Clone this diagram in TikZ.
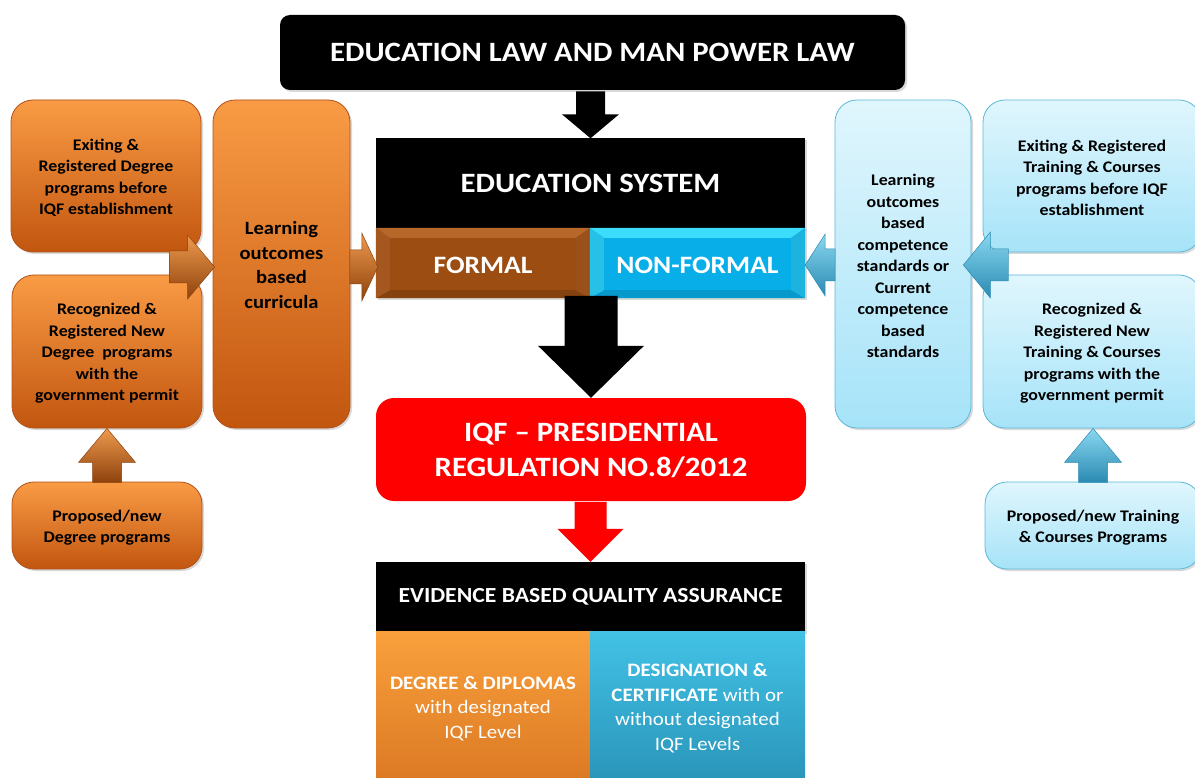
\documentclass[tikz,border=0pt]{standalone}
\usepackage{fontspec}
\setmainfont{Carlito}[FakeStretch=1.1]
\usetikzlibrary{shadows,calc}
\definecolor{ortop}{HTML}{F99B45}
\definecolor{orbot}{HTML}{C2560F}
\definecolor{ordraw}{HTML}{B0521A}
\definecolor{bltop}{HTML}{E0F6FD}
\definecolor{blbot}{HTML}{A6E3F8}
\definecolor{bldraw}{HTML}{5DB7D6}
\definecolor{formalc}{HTML}{9C4E12}
\definecolor{formall}{HTML}{B8672A}
\definecolor{formald}{HTML}{86420E}
\definecolor{nfc}{HTML}{08AEE8}
\definecolor{nfl}{HTML}{3CDDFB}
\definecolor{nfd}{HTML}{0798CC}
\definecolor{degtop}{HTML}{F9A03C}
\definecolor{degbot}{HTML}{DC7A24}
\definecolor{destop}{HTML}{42C2E6}
\definecolor{desbot}{HTML}{2A96BA}
\definecolor{arrOt}{HTML}{EE9A4E}
\definecolor{arrOb}{HTML}{8E420C}
\definecolor{arrBt}{HTML}{8AD8F0}
\definecolor{arrBb}{HTML}{2A8AB2}
\newcommand\blockarrow[7]{%
  \begin{scope}[shift={(#1)},rotate=#2]
    \path[#7] (0,0)--(-#4,-#6)--(-#4,-#5)--(-#3,-#5)--(-#3,#5)--(-#4,#5)--(-#4,#6)--cycle;
  \end{scope}}
\begin{document}
\begin{tikzpicture}[x=1pt,y=-1pt,
  shad/.style={drop shadow={shadow xshift=2pt,shadow yshift=-2pt,opacity=0.3}},
  obox/.style={draw=ordraw,line width=0.8pt,top color=ortop,bottom color=orbot,rounded corners=22pt,
    inner sep=0pt,shad},
  bbox/.style={draw=bldraw,line width=0.8pt,top color=bltop,bottom color=blbot,rounded corners=22pt,
    inner sep=0pt,shad},
  boxtext/.style={align=center,inner sep=0pt,font=\fontsize{16.2}{21.5}\selectfont\bfseries},
  blk/.style={fill=black,text=white,inner sep=0pt,align=center,font=\fontsize{28}{30}\selectfont\bfseries},
  oarr/.style={top color=arrOt,bottom color=arrOb,draw=arrOb,line width=0.5pt},
  barr/.style={top color=arrBt,bottom color=arrBb,draw=arrBb,line width=0.5pt},
]
\useasboundingbox (0,0) rectangle (1195,778);
\clip (0,0) rectangle (1195,778);

% centre column
\node[blk,rounded corners=10pt,minimum width=625pt,minimum height=75pt,shad] (law) at (592.5,52.5) {EDUCATION LAW AND MAN POWER LAW};
\node[blk,minimum width=429pt,minimum height=91pt,shad] (sys) at (590.5,183.5) {EDUCATION SYSTEM};
\node[fill=formalc,minimum width=214pt,minimum height=70pt,inner sep=0pt,shad] (formal) at (483,263) {};
\node[fill=nfc,minimum width=215pt,minimum height=70pt,inner sep=0pt,shad] (nonformal) at (697.5,263) {};
% bevels
\foreach \n/\l/\d in {formal/formall/formald,nonformal/nfl/nfd}{
  \fill[\l] (\n.north west) -- (\n.north east) -- ($(\n.north east)+(-14,10)$) -- ($(\n.north west)+(14,10)$) -- cycle;
  \fill[\d] (\n.south west) -- (\n.south east) -- ($(\n.south east)+(-14,-8)$) -- ($(\n.south west)+(14,-8)$) -- cycle;
  \fill[\d!60!\l] (\n.north east) -- (\n.south east) -- ($(\n.south east)+(-14,-8)$) -- ($(\n.north east)+(-14,10)$) -- cycle;
  \fill[\l!60!\d] (\n.north west) -- (\n.south west) -- ($(\n.south west)+(14,-8)$) -- ($(\n.north west)+(14,10)$) -- cycle;
}
\node[text=white,font=\fontsize{25}{28}\selectfont\bfseries] (formalt) at ($(formal.center)+(0,2)$) {FORMAL};
\node[text=white,font=\fontsize{25}{28}\selectfont\bfseries] (nonformalt) at ($(nonformal.center)+(0,2)$) {NON-FORMAL};

\node[fill=red,rounded corners=18pt,inner sep=0pt,minimum width=430pt,minimum height=103pt] (iqf) at (591,449.5) {};
\node[text=white,inner sep=0pt,align=center,font=\fontsize{28}{35}\selectfont\bfseries] (iqft) at ($(iqf.center)+(0,1)$) {IQF -- PRESIDENTIAL\\REGULATION NO.8/2012};

\node[fill=black,text=white,inner sep=0pt,minimum width=429pt,minimum height=70pt,
  font=\fontsize{21.5}{24}\selectfont\bfseries,shad] (eqa) at (590.5,597) {EVIDENCE BASED QUALITY ASSURANCE};
\node[top color=degtop,bottom color=degbot,inner sep=0pt,minimum width=214pt,minimum height=147pt] (deg) at (483,704.5) {};
\node[text=white,inner sep=0pt,align=center,font=\fontsize{19}{24.5}\selectfont] (degt) at ($(deg.center)+(0,4)$) {\textbf{DEGREE \& DIPLOMAS}\\with designated\\IQF Level};
\node[top color=destop,bottom color=desbot,inner sep=0pt,minimum width=215pt,minimum height=147pt] (des) at (697.5,704.5) {};
\node[text=white,inner sep=0pt,align=center,font=\fontsize{19}{24.5}\selectfont] (dest) at ($(des.center)+(0,3.5)$) {\textbf{DESIGNATION \&}\\\textbf{CERTIFICATE} with or\\without designated\\IQF Levels};

% left column
\node[obox,minimum width=190pt,minimum height=152pt] (exdeg) at (106,176) {};
\node[boxtext] at ($(exdeg.center)+(0,2)$) {Exiting \&\\Registered Degree\\programs before\\IQF establishment};
\node[obox,minimum width=190pt,minimum height=153pt] (recdeg) at (107,351.5) {};
\node[boxtext] at ($(recdeg.center)+(0,2)$) {Recognized \&\\Registered New\\Degree\ \ programs\\with the\\government permit};
\node[obox,minimum width=137pt,minimum height=328pt] (curr) at (281.5,264) {};
\node[boxtext,font=\fontsize{18.7}{24.5}\selectfont\bfseries] at ($(curr.center)+(0,1)$) {Learning\\outcomes\\based\\curricula};
\node[obox,minimum width=190pt,minimum height=87pt] (propdeg) at (107,525.5) {};
\node[boxtext] at ($(propdeg.center)+(0,2)$) {Proposed/new\\Degree programs};

% right column
\node[bbox,minimum width=136pt,minimum height=328pt] (comp) at (903,264) {};
\node[boxtext] at ($(comp.center)+(0,2)$) {Learning\\outcomes\\based\\competence\\standards or\\Current\\competence\\based\\standards};
\node[bbox,minimum width=218pt,minimum height=152pt] (extr) at (1092,176) {};
\node[boxtext] at ($(extr.center)+(0,2)$) {Exiting \& Registered\\Training \& Courses\\programs before IQF\\establishment};
\node[bbox,minimum width=218pt,minimum height=153pt] (rectr) at (1092,351.5) {};
\node[boxtext] at ($(rectr.center)+(0,2)$) {Recognized \&\\Registered New\\Training \& Courses\\programs with the\\government permit};
\node[bbox,minimum width=216pt,minimum height=87pt] (proptr) at (1093,525.5) {};
\node[boxtext] at ($(proptr.center)+(0,2)$) {Proposed/new Training\\\& Courses Programs};

% block arrows
\blockarrow{$(sys.north)+(0,0.5)$}{-90}{47}{24}{14.5}{28.5}{fill=black}
\blockarrow{iqf.north}{-90}{102}{52}{26.5}{53}{fill=black}
\blockarrow{eqa.north}{-90}{60}{33}{16}{33}{fill=red}
\blockarrow{$(curr.west)+(2,3)$}{0}{45}{27}{16}{32}{oarr}
\blockarrow{$(formal.west)+(2,4)$}{0}{28}{16}{17}{34}{oarr}
\blockarrow{recdeg.south}{90}{54}{34}{14.5}{28.5}{oarr}
\blockarrow{$(comp.east)+(-8,1)$}{180}{45}{27}{16}{33}{barr}
\blockarrow{$(nonformal.east)+(0,2)$}{180}{30}{20}{16}{31}{barr}
\blockarrow{$(rectr.south)+(1,0)$}{90}{54}{34}{14.5}{28.5}{barr}
\end{tikzpicture}
\end{document}
